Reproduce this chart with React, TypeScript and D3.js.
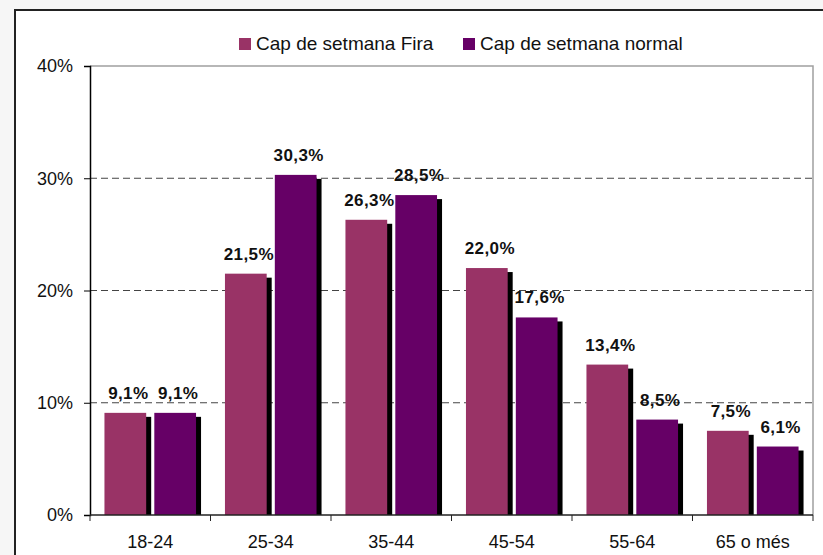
import { useEffect, useRef } from 'react';
import * as d3 from 'd3';

// Age groups and the two series (percent of visitors)
const categories = ['18-24', '25-34', '35-44', '45-54', '55-64', '65 o més'];
const seriesNames = ['Cap de setmana Fira', 'Cap de setmana normal'];
const firaValues = [9.1, 21.5, 26.3, 22.0, 13.4, 7.5];
const normalValues = [9.1, 30.3, 28.5, 17.6, 8.5, 6.1];
const yTicks = [0, 10, 20, 30, 40];

const colors = ['#993366', '#660066'];

const App = () => {
  const chartRef = useRef<SVGSVGElement>(null);

  useEffect(() => {
    document.body.style.margin = '0';
    if (!chartRef.current) return;

    const width = 823;
    const height = 555;
    const font = '"Liberation Sans", Arial, sans-serif';

    const svg = d3.select(chartRef.current);
    svg.selectAll('*').remove();

    const locale = d3.formatLocale({ decimal: ',', thousands: '.', grouping: [3], currency: ['', '€'] });
    const fmtLabel = (v: number) => locale.format('.1f')(v) + '%';

    // Page background and chart frame
    svg.append('rect').attr('width', width).attr('height', height).attr('fill', '#f6f6f6');
    svg.append('rect')
      .attr('x', 15).attr('y', 10)
      .attr('width', width + 20).attr('height', height + 20)
      .attr('fill', '#ffffff')
      .attr('stroke', '#222')
      .attr('stroke-width', 2);

    const margin = { top: 66, right: 10, bottom: 40, left: 90 };
    const plotRight = 813;
    const plotBottom = 515;

    const x0 = d3.scaleBand()
      .domain(categories)
      .range([margin.left, plotRight]);

    const x1 = d3.scaleBand()
      .domain(seriesNames)
      .range([0, x0.bandwidth()])
      .paddingInner(0.163)
      .paddingOuter(0.29);

    const y = d3.scaleLinear()
      .domain([0, 40])
      .range([plotBottom, margin.top]);

    // Plot area border (top and right)
    svg.append('path')
      .attr('d', `M${margin.left},${y(40)}H${plotRight}V${plotBottom}`)
      .attr('fill', 'none')
      .attr('stroke', '#a0a0a0')
      .attr('stroke-width', 1.5);

    // Dashed gridlines
    svg.append('g')
      .selectAll('line')
      .data(yTicks.filter(t => t > 0 && t < 40))
      .enter()
      .append('line')
      .attr('x1', margin.left)
      .attr('x2', plotRight)
      .attr('y1', d => y(d))
      .attr('y2', d => y(d))
      .attr('stroke', '#444')
      .attr('stroke-width', 1)
      .attr('stroke-dasharray', '7,4');

    // Bars with offset shadow
    const rows = categories.map((c, i) => ({
      category: c,
      values: [firaValues[i], normalValues[i]],
    }));

    const groups = svg.append('g')
      .selectAll('g')
      .data(rows)
      .enter()
      .append('g')
      .attr('transform', d => `translate(${x0(d.category)},0)`);

    const bars = groups.selectAll('g')
      .data(d => d.values.map((v, i) => ({ name: seriesNames[i], value: v, idx: i })))
      .enter()
      .append('g');

    bars.append('rect')
      .attr('x', d => (x1(d.name) as number) + 5)
      .attr('y', d => y(d.value) + 4)
      .attr('width', x1.bandwidth())
      .attr('height', d => Math.max(0, plotBottom - y(d.value) - 4))
      .attr('fill', '#000');

    bars.append('rect')
      .attr('x', d => x1(d.name) as number)
      .attr('y', d => y(d.value))
      .attr('width', x1.bandwidth())
      .attr('height', d => plotBottom - y(d.value))
      .attr('fill', d => colors[d.idx]);

    bars.append('text')
      .attr('x', d => (x1(d.name) as number) + x1.bandwidth() / 2 + 3)
      .attr('y', d => y(d.value) - 14)
      .attr('text-anchor', 'middle')
      .style('font-family', font)
      .style('font-size', '17px')
      .style('font-weight', 'bold')
      .style('letter-spacing', '0.4px')
      .style('fill', '#111')
      .text(d => fmtLabel(d.value));

    // Y axis
    const yAxis = svg.append('g')
      .attr('transform', `translate(${margin.left},0)`)
      .call(d3.axisLeft(y)
        .tickValues(yTicks)
        .tickSize(6)
        .tickPadding(11)
        .tickFormat(d => `${d}%`)
      );
    yAxis.select('.domain').attr('stroke', '#000').attr('stroke-width', 1.5);
    yAxis.selectAll('.tick line').attr('stroke', '#000');
    yAxis.selectAll('text')
      .style('font-family', font)
      .style('font-size', '18px')
      .style('fill', '#111');

    // X axis: ticks at category boundaries, labels at centres
    const xAxisG = svg.append('g');
    xAxisG.append('line')
      .attr('x1', margin.left)
      .attr('x2', plotRight)
      .attr('y1', plotBottom)
      .attr('y2', plotBottom)
      .attr('stroke', '#222')
      .attr('stroke-width', 1.5);
    const boundaries = categories.map(c => x0(c) as number).concat([plotRight]);
    xAxisG.selectAll('.xtick')
      .data(boundaries)
      .enter()
      .append('line')
      .attr('x1', d => d)
      .attr('x2', d => d)
      .attr('y1', plotBottom)
      .attr('y2', plotBottom + 6)
      .attr('stroke', '#222');
    xAxisG.selectAll('.xlabel')
      .data(categories)
      .enter()
      .append('text')
      .attr('x', d => (x0(d) as number) + x0.bandwidth() / 2)
      .attr('y', 548)
      .attr('text-anchor', 'middle')
      .style('font-family', font)
      .style('font-size', '18px')
      .style('fill', '#111')
      .text(d => d);

    // Legend
    const legendX = [239, 463];
    seriesNames.forEach((name, i) => {
      const g = svg.append('g').attr('transform', `translate(${legendX[i]},38)`);
      g.append('rect')
        .attr('width', 12)
        .attr('height', 12)
        .attr('fill', colors[i]);
      g.append('text')
        .attr('x', 17)
        .attr('y', 11.5)
        .style('font-family', font)
        .style('font-size', '19px')
        .style('fill', '#111')
        .text(name);
    });
  }, []);

  return (
    <svg
      ref={chartRef}
      width={823}
      height={555}
      style={{ display: 'block', position: 'absolute', top: 0, left: 0 }}
    />
  );
};

export default App;
